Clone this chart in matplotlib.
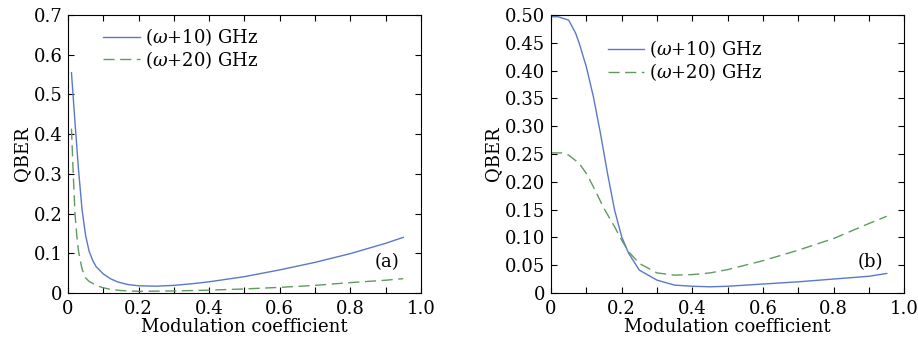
import matplotlib
matplotlib.use("Agg")
import matplotlib.pyplot as plt
import numpy as np

plt.rcParams['font.family'] = 'DejaVu Serif'
plt.rcParams['mathtext.fontset'] = 'dejavuserif'

# Panel (a)
xa_blue = [0.01, 0.02, 0.03, 0.04, 0.05, 0.06, 0.07, 0.08, 0.1, 0.12, 0.14, 0.17, 0.2, 0.25, 0.3, 0.35, 0.4, 0.5, 0.6, 0.7, 0.8, 0.9, 0.95]
ya_blue = [0.555, 0.43, 0.31, 0.21, 0.145, 0.105, 0.082, 0.066, 0.048, 0.036, 0.028, 0.021, 0.018, 0.017, 0.019, 0.023, 0.028, 0.041, 0.058, 0.077, 0.099, 0.125, 0.14]
xa_green = [0.01, 0.015, 0.02, 0.025, 0.03, 0.04, 0.05, 0.06, 0.07, 0.08, 0.1, 0.12, 0.15, 0.2, 0.3, 0.4, 0.5, 0.6, 0.7, 0.8, 0.9, 0.95]
ya_green = [0.414, 0.30, 0.20, 0.145, 0.105, 0.06, 0.038, 0.029, 0.024, 0.019, 0.013, 0.009, 0.006, 0.004, 0.005, 0.007, 0.01, 0.014, 0.019, 0.026, 0.032, 0.036]

# Panel (b)
xb_blue = [0.0, 0.02, 0.05, 0.07, 0.08, 0.1, 0.12, 0.14, 0.16, 0.18, 0.2, 0.22, 0.25, 0.3, 0.35, 0.4, 0.45, 0.5, 0.6, 0.7, 0.8, 0.9, 0.95]
yb_blue = [0.497, 0.497, 0.491, 0.467, 0.449, 0.407, 0.353, 0.287, 0.215, 0.149, 0.101, 0.071, 0.041, 0.023, 0.014, 0.012, 0.011, 0.012, 0.016, 0.02, 0.025, 0.03, 0.035]
xb_green = [0.0, 0.03, 0.05, 0.08, 0.1, 0.12, 0.15, 0.18, 0.2, 0.22, 0.25, 0.3, 0.35, 0.4, 0.45, 0.5, 0.6, 0.7, 0.8, 0.9, 0.95]
yb_green = [0.252, 0.252, 0.248, 0.233, 0.215, 0.191, 0.152, 0.119, 0.095, 0.074, 0.053, 0.036, 0.032, 0.033, 0.036, 0.042, 0.058, 0.077, 0.098, 0.125, 0.138]

labels = [r'($\omega$+10) GHz', r'($\omega$+20) GHz']
xticks = [0, 0.2, 0.4, 0.6, 0.8, 1.0]
xticklabels = ['0', '0.2', '0.4', '0.6', '0.8', '1.0']
ya_ticks = [0, 0.1, 0.2, 0.3, 0.4, 0.5, 0.6, 0.7]
ya_ticklabels = ['0', '0.1', '0.2', '0.3', '0.4', '0.5', '0.6', '0.7']
yb_ticks = [0, 0.05, 0.10, 0.15, 0.20, 0.25, 0.30, 0.35, 0.40, 0.45, 0.50]
yb_ticklabels = ['0', '0.05', '0.10', '0.15', '0.20', '0.25', '0.30', '0.35', '0.40', '0.45', '0.50']

blue = '#5b78c9'
green = '#5f9a5f'
fs = 13

fig = plt.figure(figsize=(9.18, 3.43), dpi=100)
axA = fig.add_axes([0.074, 0.146, 0.3845, 0.81])
axB = fig.add_axes([0.6002, 0.146, 0.385, 0.81])

for ax, (xb, yb), (xg, yg), yt, ytl, ymax, tag in [
    (axA, (xa_blue, ya_blue), (xa_green, ya_green), ya_ticks, ya_ticklabels, 0.7, '(a)'),
    (axB, (xb_blue, yb_blue), (xb_green, yb_green), yb_ticks, yb_ticklabels, 0.5, '(b)')]:
    ax.plot(xb, yb, color=blue, lw=1.0, label=labels[0])
    ax.plot(xg, yg, color=green, lw=1.0, dashes=(8, 4), label=labels[1])
    ax.set_xlim(0, 1.0)
    ax.set_ylim(0, ymax)
    ax.set_xticks(xticks)
    ax.set_xticklabels(xticklabels)
    ax.set_xticks([0.1, 0.3, 0.5, 0.7, 0.9], minor=True)
    ax.set_yticks(yt)
    ax.set_yticklabels(ytl)
    ax.tick_params(which='both', direction='in', top=True, right=True, length=4, width=0.8, labelsize=fs)
    ax.tick_params(axis='x', pad=5)
    ax.tick_params(axis='y', pad=4)
    ax.set_xlabel('Modulation coefficient', fontsize=fs, labelpad=0)
    ax.set_ylabel('QBER', fontsize=fs, labelpad=2)
    for s in ax.spines.values():
        s.set_linewidth(0.8)
    ax.text(0.94, 0.11, tag, transform=ax.transAxes, fontsize=fs, ha='right', va='center')

axA.legend(loc='upper left', bbox_to_anchor=(0.07, 1.0), frameon=False, fontsize=fs,
           handlelength=2.0, handletextpad=0.3, labelspacing=0.05, borderaxespad=0.2)
axB.legend(loc='upper left', bbox_to_anchor=(0.13, 0.955), frameon=False, fontsize=fs,
           handlelength=2.0, handletextpad=0.3, labelspacing=0.05, borderaxespad=0.2)

fig.savefig('out.png', dpi=100)
